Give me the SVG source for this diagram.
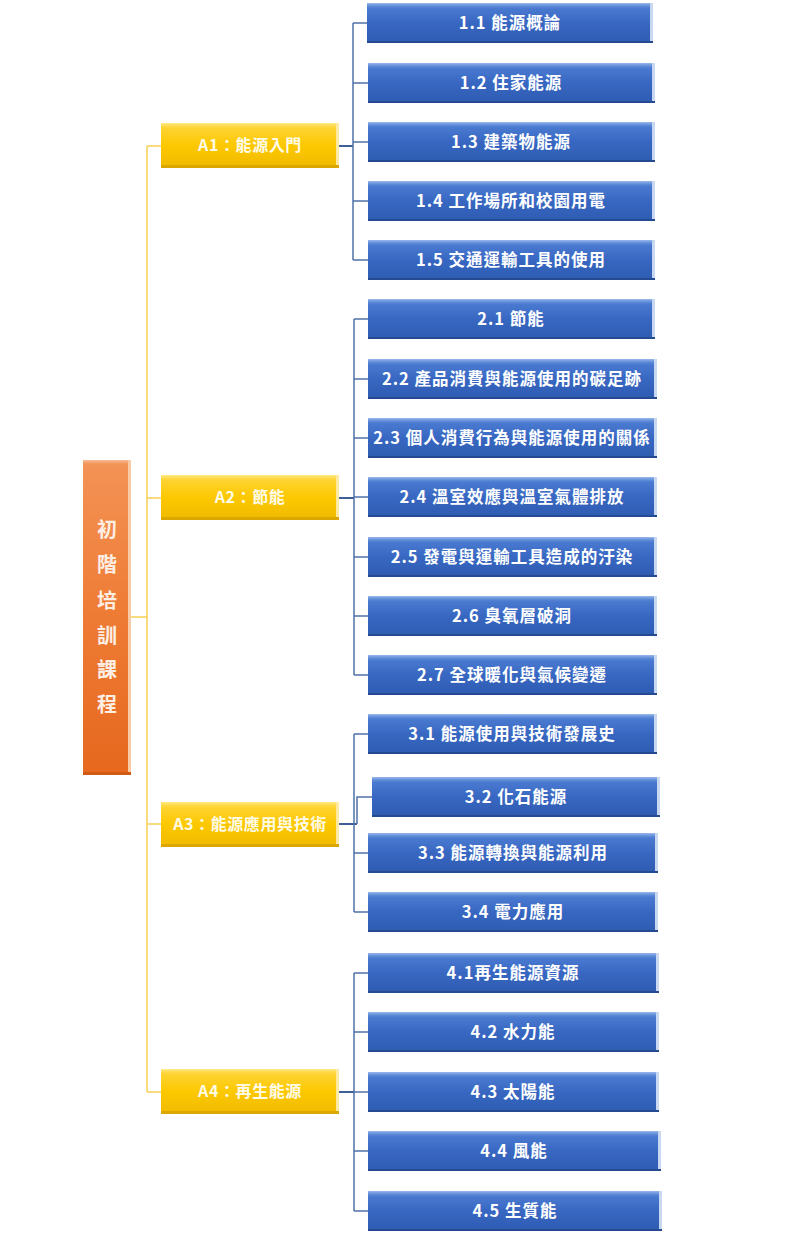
<svg xmlns="http://www.w3.org/2000/svg" width="808" height="1235" viewBox="0 0 808 1235">
<defs>
<linearGradient id="gBlue" x1="0" y1="0" x2="0" y2="1">
<stop offset="0" stop-color="#4f80d4"/>
<stop offset="0.5" stop-color="#3867c2"/>
<stop offset="1" stop-color="#2e5cb2"/>
</linearGradient>
<linearGradient id="gBlueTop" x1="0" y1="0" x2="0" y2="1">
<stop offset="0" stop-color="#9dbbec"/>
<stop offset="1" stop-color="#5585d6" stop-opacity="0"/>
</linearGradient>
<linearGradient id="gYel" x1="0" y1="0" x2="0" y2="1">
<stop offset="0" stop-color="#ffd640"/>
<stop offset="0.5" stop-color="#fcc800"/>
<stop offset="1" stop-color="#f0ba00"/>
</linearGradient>
<linearGradient id="gYelTop" x1="0" y1="0" x2="0" y2="1">
<stop offset="0" stop-color="#ffeb8c"/>
<stop offset="1" stop-color="#ffd640" stop-opacity="0"/>
</linearGradient>
<linearGradient id="gOra" x1="0" y1="0" x2="0" y2="1">
<stop offset="0" stop-color="#f39356"/>
<stop offset="0.5" stop-color="#ee7b34"/>
<stop offset="1" stop-color="#e6681e"/>
</linearGradient>
<linearGradient id="gOraTop" x1="0" y1="0" x2="0" y2="1">
<stop offset="0" stop-color="#f9c09a"/>
<stop offset="1" stop-color="#f39356" stop-opacity="0"/>
</linearGradient>
</defs>
<style>
.bb{fill:url(#gBlue)}
.bt{fill:url(#gBlueTop)}
.br{fill:#c9d8f1}
.bd{fill:#244a92}
.yb{fill:url(#gYel)}
.yt{fill:url(#gYelTop)}
.yr{fill:#ffe9a3}
.yd{fill:#dca600}
.ob{fill:url(#gOra)}
.ot{fill:url(#gOraTop)}
.or{fill:#f9caa6}
.od{fill:#cf5a14}
text{font-family:"Noto Sans CJK TC","Noto Sans CJK SC",sans-serif;font-weight:bold;fill:#ffffff;text-anchor:middle}
.tb{font-size:16.5px;letter-spacing:1px}
.ty{font-size:16px;letter-spacing:0.6px;fill:#fffbe6}
.tr{font-size:20px;fill:#fdeee4}
.cy{stroke:#f7cf55;stroke-width:1.5;fill:none}
.cb{stroke:#4f72a8;stroke-width:1.5;fill:none}
.cbd{stroke:#3d5f95;stroke-width:2;fill:none}
</style>
<rect width="808" height="1235" fill="#ffffff"/>

<g id="connectors">
<path class="cy" d="M131,617H147M147,146V1092M147,146H161M147,498H161M147,824H161M147,1092H161"/>
<path class="cbd" d="M339,146H353M339,498H354M339,824H357M339,1092H354"/>
<path class="cb" d="M353,23V260M353,23H367M353,83H368M353,142H368M353,201H368M353,260H368"/>
<path class="cb" d="M354,319V675M354,319H368M354,379H368M354,438H368M354,497H368M354,557H368M354,616H368M354,675H368"/>
<path class="cb" d="M354,734V912M354,734H368M357,824V797H372M354,853H368M354,912H368"/>
<path class="cb" d="M354,973V1211M354,973H368M354,1032H368M354,1092H368M354,1151H368M354,1211H368"/>
</g>

<g id="root" transform="translate(83,460)">
<rect class="ob" width="48" height="315"/>
<rect class="ot" width="48" height="6"/>
<rect class="or" x="45" width="3" height="315"/>
<rect class="od" y="312" width="48" height="3"/>
<text class="tr" x="24" y="77">初</text>
<text class="tr" x="24" y="112">階</text>
<text class="tr" x="24" y="148">培</text>
<text class="tr" x="24" y="183">訓</text>
<text class="tr" x="24" y="217">課</text>
<text class="tr" x="24" y="252">程</text>
</g>

<g id="A1" transform="translate(161,123)">
<rect class="yb" width="178" height="45"/><rect class="yt" width="178" height="6"/>
<rect class="yr" x="175" width="3" height="45"/><rect class="yd" y="42" width="178" height="3"/>
<text class="ty" x="89" y="28">A1：能源入門</text>
</g>
<g id="A2" transform="translate(161,475)">
<rect class="yb" width="178" height="45"/><rect class="yt" width="178" height="6"/>
<rect class="yr" x="175" width="3" height="45"/><rect class="yd" y="42" width="178" height="3"/>
<text class="ty" x="89" y="28">A2：節能</text>
</g>
<g id="A3" transform="translate(161,802)">
<rect class="yb" width="178" height="45"/><rect class="yt" width="178" height="6"/>
<rect class="yr" x="175" width="3" height="45"/><rect class="yd" y="42" width="178" height="3"/>
<text class="ty" x="89" y="28">A3：能源應用與技術</text>
</g>
<g id="A4" transform="translate(161,1069)">
<rect class="yb" width="178" height="45"/><rect class="yt" width="178" height="6"/>
<rect class="yr" x="175" width="3" height="45"/><rect class="yd" y="42" width="178" height="3"/>
<text class="ty" x="89" y="28">A4：再生能源</text>
</g>

<g id="n1-1" transform="translate(367,3)">
<rect class="bb" width="286" height="40"/><rect class="bt" width="286" height="6"/>
<rect class="br" x="283" width="3" height="40"/><rect class="bd" y="38" width="286" height="2"/>
<text class="tb" x="143" y="26">1.1 能源概論</text>
</g>
<g id="n1-2" transform="translate(368,63)">
<rect class="bb" width="287" height="40"/><rect class="bt" width="287" height="6"/>
<rect class="br" x="284" width="3" height="40"/><rect class="bd" y="38" width="287" height="2"/>
<text class="tb" x="143" y="26">1.2 住家能源</text>
</g>
<g id="n1-3" transform="translate(368,122)">
<rect class="bb" width="287" height="40"/><rect class="bt" width="287" height="6"/>
<rect class="br" x="284" width="3" height="40"/><rect class="bd" y="38" width="287" height="2"/>
<text class="tb" x="143" y="26">1.3 建築物能源</text>
</g>
<g id="n1-4" transform="translate(368,181)">
<rect class="bb" width="287" height="40"/><rect class="bt" width="287" height="6"/>
<rect class="br" x="284" width="3" height="40"/><rect class="bd" y="38" width="287" height="2"/>
<text class="tb" x="143" y="26">1.4 工作場所和校園用電</text>
</g>
<g id="n1-5" transform="translate(368,240)">
<rect class="bb" width="287" height="40"/><rect class="bt" width="287" height="6"/>
<rect class="br" x="284" width="3" height="40"/><rect class="bd" y="38" width="287" height="2"/>
<text class="tb" x="143" y="26">1.5 交通運輸工具的使用</text>
</g>

<g id="n2-1" transform="translate(368,299)">
<rect class="bb" width="287" height="40"/><rect class="bt" width="287" height="6"/>
<rect class="br" x="284" width="3" height="40"/><rect class="bd" y="38" width="287" height="2"/>
<text class="tb" x="143" y="26">2.1 節能</text>
</g>
<g id="n2-2" transform="translate(368,359)">
<rect class="bb" width="289" height="40"/><rect class="bt" width="289" height="6"/>
<rect class="br" x="286" width="3" height="40"/><rect class="bd" y="38" width="289" height="2"/>
<text class="tb" x="144" y="26">2.2 產品消費與能源使用的碳足跡</text>
</g>
<g id="n2-3" transform="translate(368,418)">
<rect class="bb" width="289" height="40"/><rect class="bt" width="289" height="6"/>
<rect class="br" x="286" width="3" height="40"/><rect class="bd" y="38" width="289" height="2"/>
<text class="tb" x="144" y="26">2.3 個人消費行為與能源使用的關係</text>
</g>
<g id="n2-4" transform="translate(368,477)">
<rect class="bb" width="289" height="40"/><rect class="bt" width="289" height="6"/>
<rect class="br" x="286" width="3" height="40"/><rect class="bd" y="38" width="289" height="2"/>
<text class="tb" x="144" y="26">2.4 溫室效應與溫室氣體排放</text>
</g>
<g id="n2-5" transform="translate(368,537)">
<rect class="bb" width="289" height="40"/><rect class="bt" width="289" height="6"/>
<rect class="br" x="286" width="3" height="40"/><rect class="bd" y="38" width="289" height="2"/>
<text class="tb" x="144" y="26">2.5 發電與運輸工具造成的汙染</text>
</g>
<g id="n2-6" transform="translate(368,596)">
<rect class="bb" width="289" height="40"/><rect class="bt" width="289" height="6"/>
<rect class="br" x="286" width="3" height="40"/><rect class="bd" y="38" width="289" height="2"/>
<text class="tb" x="144" y="26">2.6 臭氧層破洞</text>
</g>
<g id="n2-7" transform="translate(368,655)">
<rect class="bb" width="289" height="40"/><rect class="bt" width="289" height="6"/>
<rect class="br" x="286" width="3" height="40"/><rect class="bd" y="38" width="289" height="2"/>
<text class="tb" x="144" y="26">2.7 全球暖化與氣候變遷</text>
</g>

<g id="n3-1" transform="translate(368,714)">
<rect class="bb" width="289" height="40"/><rect class="bt" width="289" height="6"/>
<rect class="br" x="286" width="3" height="40"/><rect class="bd" y="38" width="289" height="2"/>
<text class="tb" x="144" y="26">3.1 能源使用與技術發展史</text>
</g>
<g id="n3-2" transform="translate(372,777)">
<rect class="bb" width="288" height="40"/><rect class="bt" width="288" height="6"/>
<rect class="br" x="285" width="3" height="40"/><rect class="bd" y="38" width="288" height="2"/>
<text class="tb" x="144" y="26">3.2 化石能源</text>
</g>
<g id="n3-3" transform="translate(368,833)">
<rect class="bb" width="290" height="40"/><rect class="bt" width="290" height="6"/>
<rect class="br" x="287" width="3" height="40"/><rect class="bd" y="38" width="290" height="2"/>
<text class="tb" x="145" y="26">3.3 能源轉換與能源利用</text>
</g>
<g id="n3-4" transform="translate(368,892)">
<rect class="bb" width="290" height="40"/><rect class="bt" width="290" height="6"/>
<rect class="br" x="287" width="3" height="40"/><rect class="bd" y="38" width="290" height="2"/>
<text class="tb" x="145" y="26">3.4 電力應用</text>
</g>

<g id="n4-1" transform="translate(368,953)">
<rect class="bb" width="291" height="40"/><rect class="bt" width="291" height="6"/>
<rect class="br" x="288" width="3" height="40"/><rect class="bd" y="38" width="291" height="2"/>
<text class="tb" x="145" y="26">4.1再生能源資源</text>
</g>
<g id="n4-2" transform="translate(368,1012)">
<rect class="bb" width="291" height="40"/><rect class="bt" width="291" height="6"/>
<rect class="br" x="288" width="3" height="40"/><rect class="bd" y="38" width="291" height="2"/>
<text class="tb" x="145" y="26">4.2 水力能</text>
</g>
<g id="n4-3" transform="translate(368,1072)">
<rect class="bb" width="291" height="40"/><rect class="bt" width="291" height="6"/>
<rect class="br" x="288" width="3" height="40"/><rect class="bd" y="38" width="291" height="2"/>
<text class="tb" x="145" y="26">4.3 太陽能</text>
</g>
<g id="n4-4" transform="translate(368,1131)">
<rect class="bb" width="293" height="40"/><rect class="bt" width="293" height="6"/>
<rect class="br" x="290" width="3" height="40"/><rect class="bd" y="38" width="293" height="2"/>
<text class="tb" x="146" y="26">4.4 風能</text>
</g>
<g id="n4-5" transform="translate(368,1191)">
<rect class="bb" width="294" height="40"/><rect class="bt" width="294" height="6"/>
<rect class="br" x="291" width="3" height="40"/><rect class="bd" y="38" width="294" height="2"/>
<text class="tb" x="147" y="26">4.5 生質能</text>
</g>
</svg>
